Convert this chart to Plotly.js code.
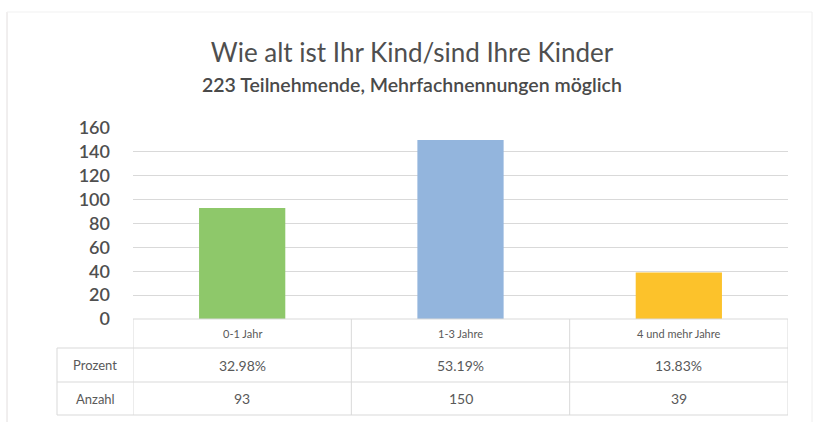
<!DOCTYPE html>
<html>
<head>
<meta charset="utf-8">
<script src="https://cdn.plot.ly/plotly-3.0.1.min.js"></script>
<style>
html,body{margin:0;padding:0;background:#fff;}
#chart{width:815px;height:422px;}
</style>
</head>
<body>
<div id="chart"></div>
<script>
const titleText = "Wie alt ist Ihr Kind/sind Ihre Kinder";
const subtitleText = "223 Teilnehmende, Mehrfachnennungen möglich";
const categories = ["0-1 Jahr", "1-3 Jahre", "4 und mehr Jahre"];
const counts = [93, 150, 39];
const percents = ["32.98%", "53.19%", "13.83%"];
const rowLabels = ["Prozent", "Anzahl"];
const barColors = ["#8ec86a", "#93b5dd", "#fcc22b"];
const yTicks = [0, 20, 40, 60, 80, 100, 120, 140, 160];

// layout geometry (pixels)
const W = 815, H = 422;
const plotL = 133, plotR = 788, plotT = 128, plotB = 319;
const pw = plotR - plotL, ph = plotB - plotT;
const px = p => (p - plotL) / pw;
const py = p => (plotB - p) / ph;
const rowY = [319, 348, 382, 415];
const headerLeft = 57;
const gridCol = "#d9d9d9";
const textCol = "#595959";

const shapes = [];
const line = (x0, y0, x1, y1, xref, col) => shapes.push({
  type: "line", xref: xref || "paper", yref: "paper",
  x0: x0, x1: x1, y0: y0, y1: y1,
  line: {color: col || gridCol, width: 1}, layer: "above"
});
// horizontal table lines
line(px(plotL), py(rowY[0]), px(plotR), py(rowY[0]));
for (let i = 1; i < rowY.length; i++) line(px(headerLeft), py(rowY[i]), px(plotR), py(rowY[i]));
// vertical table lines (category boundaries in data units)
for (let i = 0; i <= categories.length; i++) line(i - 0.5, py(rowY[0]), i - 0.5, py(rowY[3]), "x");
line(px(headerLeft), py(rowY[1]), px(headerLeft), py(rowY[3]));
// card outline
line(px(7), py(12), px(7), py(440), "paper", "#e2dede");
line(px(7), py(12), px(812), py(12), "paper", "#f1f1f1");
line(px(812), py(12), px(812), py(440), "paper", "#eeeeee");

const annotations = [];
const mid = (a, b) => py((rowY[a] + rowY[b]) / 2);
categories.forEach((c, i) => {
  annotations.push({x: i, xref: "x", y: mid(0, 1), yref: "paper", text: c, showarrow: false,
    xanchor: "center", yanchor: "middle", font: {family: "Lato, sans-serif", size: 11, color: textCol}});
  annotations.push({x: i, xref: "x", y: mid(1, 2), yref: "paper", text: percents[i], showarrow: false,
    xanchor: "center", yanchor: "middle", font: {family: "Lato, sans-serif", size: 14, color: textCol}});
  annotations.push({x: i, xref: "x", y: mid(2, 3), yref: "paper", text: String(counts[i]), showarrow: false,
    xanchor: "center", yanchor: "middle", font: {family: "Lato, sans-serif", size: 14, color: textCol}});
});
rowLabels.forEach((r, j) => {
  annotations.push({x: px((headerLeft + plotL) / 2), xref: "paper", y: mid(j + 1, j + 2), yref: "paper",
    text: r, showarrow: false, xanchor: "center", yanchor: "middle",
    font: {family: "Lato, sans-serif", size: 13, color: textCol}});
});
annotations.push({x: px(412), xref: "paper", y: py(84), yref: "paper", text: subtitleText,
  showarrow: false, xanchor: "center", yanchor: "middle",
  font: {family: "Lato, sans-serif", size: 19.5, color: "#4a4a4a", weight: 600}});

const trace = {
  type: "bar", x: categories, y: counts,
  marker: {color: barColors, line: {width: 0}},
  hoverinfo: "x+y"
};

const layout = {
  width: W, height: H,
  margin: {l: plotL, r: W - plotR, t: plotT, b: H - plotB, pad: 0},
  paper_bgcolor: "#ffffff", plot_bgcolor: "#ffffff",
  bargap: 0.605,
  showlegend: false,
  title: {text: titleText, x: 412 / W, xanchor: "center", y: 1 - 53 / H, yanchor: "middle",
    xref: "container", yref: "container",
    font: {family: "Lato, sans-serif", size: 26, color: "#4f4f4f"}},
  xaxis: {showticklabels: false, showgrid: false, zeroline: false, showline: false, ticks: "",
    range: [-0.5, 2.5], fixedrange: true},
  yaxis: {range: [0, 160], tickvals: yTicks, showgrid: true, gridcolor: gridCol, gridwidth: 1,
    zeroline: false, showline: false, ticks: "", ticklabelstandoff: 22,
    tickfont: {family: "Lato, sans-serif", size: 18, color: "#4f4f4f", weight: 600}, fixedrange: true},
  shapes: shapes,
  annotations: annotations
};

Plotly.newPlot("chart", [trace], layout, {staticPlot: true, displayModeBar: false});
</script>
</body>
</html>
